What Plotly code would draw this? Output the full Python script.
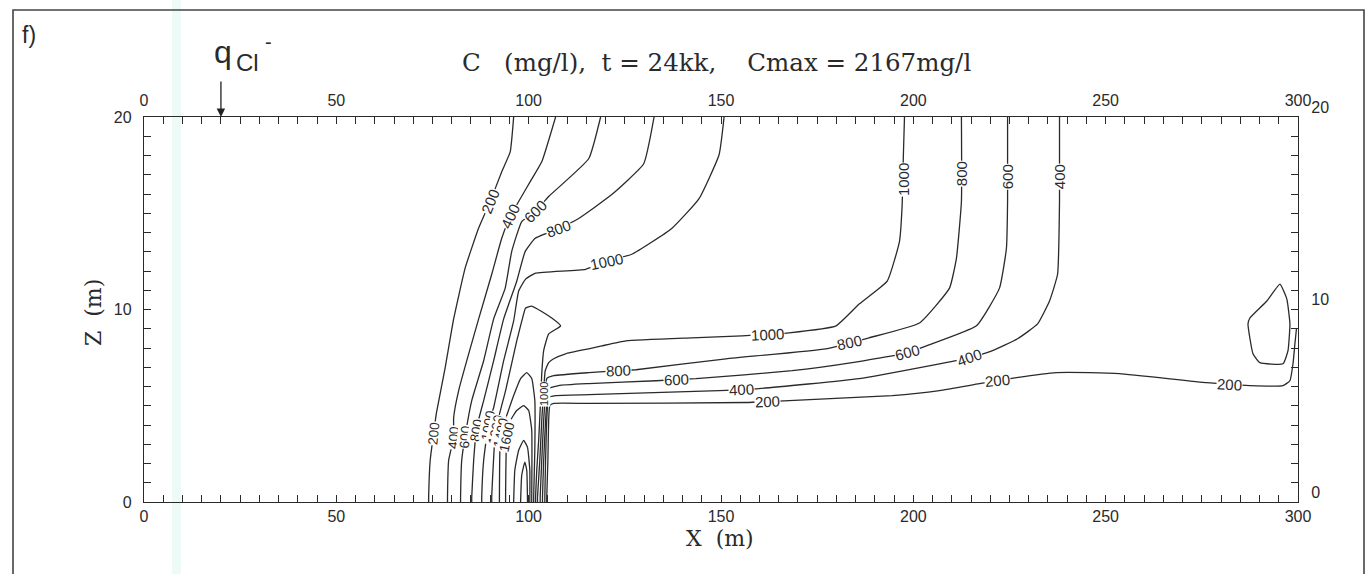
import plotly.graph_objects as go

# ---- contour polylines of the concentration field C (mg/l); x and z in metres ----
c200_left_x = [96.1, 95.2, 93.0, 90.0, 87.0, 83.5, 80.5, 78.3, 76.0, 75.3, 74.4, 74.0, 74.0]
c200_left_z = [20, 18.19, 17.16, 15.61, 14.23, 12.16, 9.51, 6.98, 4.60, 3.57, 2.17, 0.26, 0]

c400_left_x = [107.0, 103.4, 100.4, 95.2, 93.0, 90.4, 87.0, 81.8, 80.5, 80.5, 79.2, 78.9, 78.9]
c400_left_z = [20, 17.67, 16.64, 14.83, 13.70, 11.83, 9.51, 5.79, 4.39, 3.36, 2.17, 0.26, 0]

c600_left_x = [118.7, 115.6, 105.2, 101.7, 98.2, 95.6, 93.9, 90.9, 88.3, 85.2, 83.6, 82.6, 82.3, 82.3]
c600_left_z = [20, 17.83, 15.87, 15.09, 14.57, 13.02, 11.11, 9.51, 7.34, 5.27, 3.57, 2.17, 0.26, 0]

c800_left_x = [132.6, 129.9, 121.6, 113.0, 107.8, 101.7, 99.1, 96.9, 93.5, 90.9, 88.3, 86.5, 85.7, 85.2, 85.2]
c800_left_z = [20, 17.57, 15.97, 14.73, 14.21, 13.70, 13.02, 11.47, 9.51, 7.34, 5.27, 3.88, 2.17, 0.26, 0]

c1000_left_x = [150.8, 149.5, 144.3, 137.2, 126.8, 120.3, 114.8, 101.8, 99.2, 97.4, 96.1, 93.5, 90.9, 89.6, 88.3, 87.8, 87.8]
c1000_left_z = [20, 18.04, 15.76, 14.21, 12.87, 12.51, 12.09, 11.89, 11.58, 10.96, 9.41, 7.34, 4.91, 4.08, 2.17, 0.26, 0]

c1200_x = [90.4, 90.4, 91.4, 94.0, 96.9, 98.7, 99.2, 100.8, 106.0, 108.3, 105.2, 103.9, 103.4, 103.1, 102.6, 102.1, 101.8, 101.8]
c1200_z = [0, 0.26, 3.72, 5.79, 8.37, 9.77, 10.08, 10.18, 9.56, 9.15, 8.73, 7.86, 6.67, 5.27, 3.20, 1.65, 0.26, 0]

c1400_x = [92.4, 92.4, 92.7, 94.3, 96.1, 97.9, 99.5, 100.8, 101.6, 101.6, 101.3, 101.3]
c1400_z = [0, 0.26, 3.57, 4.50, 5.53, 6.41, 6.72, 6.41, 5.27, 2.69, 0.26, 0]

c1600_x = [94.0, 94.0, 94.3, 95.3, 96.9, 98.7, 100.0, 100.8, 100.8, 100.8]
c1600_z = [0, 0.26, 3.36, 4.24, 4.75, 5.01, 4.75, 3.72, 0.26, 0]

c1800_x = [96.1, 96.4, 97.4, 98.7, 99.7, 100.3, 100.3]
c1800_z = [0, 1.65, 2.69, 3.20, 2.84, 1.65, 0]

c2000_x = [97.9, 98.2, 99.0, 99.5, 99.7]
c2000_z = [0, 1.40, 2.07, 1.65, 0]

c1000_right_x = [102.3, 102.3, 102.9, 103.4, 103.9, 104.3, 105.2, 106.5, 109.6, 115.6, 119.0, 125.3, 142.4,
                 155.5, 167.7, 179.9, 185.9, 193.2, 196.4, 197.1, 197.4, 197.7]
c1000_right_z = [0, 0.26, 2.17, 4.24, 5.79, 6.82, 7.24, 7.44, 7.70, 7.96, 8.11, 8.37, 8.53,
                 8.63, 8.79, 9.15, 10.28, 11.47, 13.54, 15.45, 17.93, 20]

c800_right_x = [103.0, 103.0, 103.4, 103.9, 104.4, 104.7, 106.5, 115.6, 123.4, 127.9, 151.3, 177.3, 188.5,
                201.6, 209.4, 211.2, 212.5, 212.5]
c800_right_z = [0, 0.26, 2.17, 4.24, 5.79, 6.41, 6.56, 6.72, 6.82, 6.87, 7.44, 7.96, 8.53,
                9.30, 11.11, 12.66, 15.61, 20]

c600_right_x = [103.6, 103.6, 103.9, 104.4, 104.9, 105.2, 107.8, 115.6, 133.1, 143.5, 168.5, 184.1, 198.4,
                203.4, 216.4, 222.4, 224.2, 224.5, 224.5]
c600_right_z = [0, 0.26, 2.17, 4.24, 5.53, 5.89, 6.05, 6.15, 6.30, 6.41, 6.82, 7.24, 7.75,
                8.11, 9.15, 11.11, 13.18, 15.61, 20]

c400_right_x = [104.2, 104.2, 104.4, 104.7, 105.2, 107.0, 115.6, 149.5, 159.9, 185.9, 206.8, 214.6, 220.6,
                227.1, 232.3, 235.4, 237.5, 238.0, 238.0]
c400_right_z = [0, 0.26, 2.17, 4.24, 5.43, 5.53, 5.58, 5.79, 5.89, 6.41, 7.18, 7.49, 7.86,
                8.48, 9.25, 10.44, 11.83, 15.61, 20]

c200_right_x = [104.7, 104.7, 105.0, 105.2, 105.5, 106.5, 115.6, 156.5, 167.7, 194.5, 206.8, 217.2, 226.8,
                237.2, 245.8, 253.6, 276.3, 287.5, 296.1, 297.9, 298.7, 299.2, 299.6]
c200_right_z = [0, 0.26, 2.17, 4.24, 5.01, 5.12, 5.12, 5.17, 5.27, 5.53, 5.79, 6.15, 6.46,
                6.72, 6.72, 6.67, 6.20, 6.05, 6.05, 6.30, 7.18, 8.22, 9.0]

c200_loop_x = [295.3, 297.1, 297.9, 297.4, 296.1, 290.1, 288.3, 287.0, 287.5, 291.9, 295.3]
c200_loop_z = [11.32, 10.54, 9.25, 7.86, 7.18, 7.24, 7.70, 9.25, 9.56, 10.44, 11.32]

# ---- contour labels: level, position along the line, text angle ----
label_level = [200, 400, 600, 800, 1000,
               200, 400, 600, 800, 1000, 1200, 1400, 1600,
               1000, 800, 800, 600, 600, 400, 400, 200, 200, 200,
               1000, 800, 600, 400, 1000]
label_x = [90.0, 95.2, 101.7, 107.8, 120.3,
           75.3, 80.5, 83.45, 86.4, 89.5, 91.4, 92.7, 94.3,
           162.0, 123.4, 183.3, 138.5, 198.4, 155.2, 214.6, 162.0, 221.9, 282.3,
           197.4, 212.5, 224.5, 238.0, 103.85]
label_z = [15.61, 14.83, 15.09, 14.21, 12.51,
           3.57, 3.36, 3.36, 3.72, 3.98, 3.72, 3.57, 3.36,
           8.70, 6.82, 8.27, 6.36, 7.75, 5.85, 7.49, 5.22, 6.30, 6.12,
           16.74, 17.05, 16.90, 16.90, 5.63]
label_angle = [-68, -65, -45, -20, -12,
               -85, -85, -85, -80, -80, -78, -78, -78,
               -3, -2, -12, -2, -15, -2, -20, -2, -5, 3,
               -90, -90, -90, -90, -90]

# source location of the chloride flux at the surface
q_source_x = 20

contour_lines = [
    (200, c200_left_x, c200_left_z), (400, c400_left_x, c400_left_z),
    (600, c600_left_x, c600_left_z), (800, c800_left_x, c800_left_z),
    (1000, c1000_left_x, c1000_left_z), (1200, c1200_x, c1200_z),
    (1400, c1400_x, c1400_z), (1600, c1600_x, c1600_z),
    (1800, c1800_x, c1800_z), (2000, c2000_x, c2000_z),
    (1000, c1000_right_x, c1000_right_z), (800, c800_right_x, c800_right_z),
    (600, c600_right_x, c600_right_z), (400, c400_right_x, c400_right_z),
    (200, c200_right_x, c200_right_z), (200, c200_loop_x, c200_loop_z),
]

INK = "#2a2a2a"
SANS = "Liberation Sans, Arial, sans-serif"
SERIF = "DejaVu Serif, serif"
NB = "\u00a0"

fig = go.Figure()
for level, xs, zs in contour_lines:
    fig.add_trace(go.Scatter(
        x=xs, y=zs, mode="lines", name=f"{level} mg/l",
        line=dict(color=INK, width=1.3, shape="spline", smoothing=0.4),
        showlegend=False, hoverinfo="skip",
    ))

# empty trace that carries the top / right mirror axes
fig.add_trace(go.Scatter(x=[None], y=[None], xaxis="x2", yaxis="y2",
                         showlegend=False, hoverinfo="skip"))

annotations = []
for i, (lv, lx, lz, ang) in enumerate(zip(label_level, label_x, label_z, label_angle)):
    if 102 < lx < 106:
        size = 11          # label squeezed inside the dense bundle
    elif 5 <= i <= 12:
        size = 13.5        # stacked labels near the bottom
    else:
        size = 15
    annotations.append(dict(
        x=lx, y=lz, xref="x", yref="y", text=str(lv), showarrow=False,
        textangle=ang, bgcolor="white", borderpad=0,
        font=dict(family=SANS, size=size, color=INK),
    ))

title_text = ("C" + NB * 3 + "(mg/l)," + NB * 2 + "t" + NB + "=" + NB + "24kk,"
              + NB * 4 + "Cmax" + NB + "=" + NB + "2167mg/l")

# title, axis titles and panel marks
annotations += [
    dict(x=(716 - 144) / 1154, y=(502 - 62) / 385, xref="paper", yref="paper", showarrow=False,
         text=title_text, font=dict(family=SERIF, size=24.5, color=INK),
         xanchor="center", yanchor="middle"),
    dict(x=(720 - 144) / 1154, y=(502 - 538) / 385, xref="paper", yref="paper", showarrow=False,
         text="X" + NB * 2 + "(m)", font=dict(family=SERIF, size=22, color=INK),
         xanchor="center", yanchor="middle"),
    dict(x=(93 - 144) / 1154, y=(502 - 313) / 385, xref="paper", yref="paper", showarrow=False,
         text="Z" + NB * 2 + "(m)", textangle=-90, font=dict(family=SERIF, size=22, color=INK),
         xanchor="center", yanchor="middle"),
    dict(x=(29 - 144) / 1154, y=(502 - 35) / 385, xref="paper", yref="paper", showarrow=False,
         text="f)", font=dict(family=SANS, size=23, color=INK),
         xanchor="center", yanchor="middle"),
    dict(x=(223 - 144) / 1154, y=(502 - 52) / 385, xref="paper", yref="paper", showarrow=False,
         text="q", font=dict(family=SANS, size=32, color=INK),
         xanchor="center", yanchor="middle"),
    dict(x=(247 - 144) / 1154, y=(502 - 63) / 385, xref="paper", yref="paper", showarrow=False,
         text="Cl", font=dict(family=SANS, size=24, color=INK),
         xanchor="center", yanchor="middle"),
    dict(x=(268 - 144) / 1154, y=(502 - 42) / 385, xref="paper", yref="paper", showarrow=False,
         text="-", font=dict(family=SANS, size=20, color=INK),
         xanchor="center", yanchor="middle"),
    dict(x=q_source_x, y=20, xref="x", yref="y", text="", showarrow=True,
         ax=0, ay=-37, arrowhead=2, arrowsize=1.3, arrowwidth=1.3, arrowcolor="#222"),
]

axis_common = dict(
    showline=True, linecolor=INK, linewidth=1.3, showgrid=False, zeroline=False,
    ticks="inside", ticklen=7, tickwidth=1, tickcolor=INK,
    tickfont=dict(family=SANS, size=16, color=INK),
)

fig.update_layout(
    width=1370, height=574,
    margin=dict(l=144, r=72, t=117, b=72),
    paper_bgcolor="white", plot_bgcolor="white",
    xaxis=dict(range=[0, 300], dtick=50, tick0=0, ticklabelstandoff=0,
               minor=dict(dtick=5, ticks="inside", ticklen=7, tickcolor=INK),
               **axis_common),
    xaxis2=dict(range=[0, 300], dtick=50, tick0=0, overlaying="x", side="top", anchor="y",
                ticklabelstandoff=3,
                minor=dict(dtick=5, ticks="inside", ticklen=7, tickcolor=INK),
                **axis_common),
    yaxis=dict(range=[0, 20], dtick=10, tick0=0, ticklabelstandoff=8,
               minor=dict(dtick=1, ticks="inside", ticklen=7, tickcolor=INK),
               **axis_common),
    yaxis2=dict(range=[0, 20], dtick=10, tick0=0, overlaying="y", side="right", anchor="x",
                ticklabelstandoff=9, ticklabelshift=-10,
                minor=dict(dtick=1, ticks="inside", ticklen=7, tickcolor=INK),
                **axis_common),
    annotations=annotations,
    shapes=[
        # outer panel frame
        dict(type="rect", xref="paper", yref="paper",
             x0=(13 - 144) / 1154, x1=(1364 - 144) / 1154, y0=-0.3, y1=(502 - 10) / 385,
             line=dict(color="#444", width=1.6), fillcolor="rgba(0,0,0,0)", layer="above"),
        # faint tinted band of the printed page
        dict(type="rect", xref="paper", yref="paper",
             x0=(172 - 144) / 1154, x1=(181 - 144) / 1154, y0=-0.3, y1=1.4,
             line=dict(width=0), fillcolor="rgba(210,244,238,0.4)", layer="below"),
    ],
)

fig.write_html("out.html")
